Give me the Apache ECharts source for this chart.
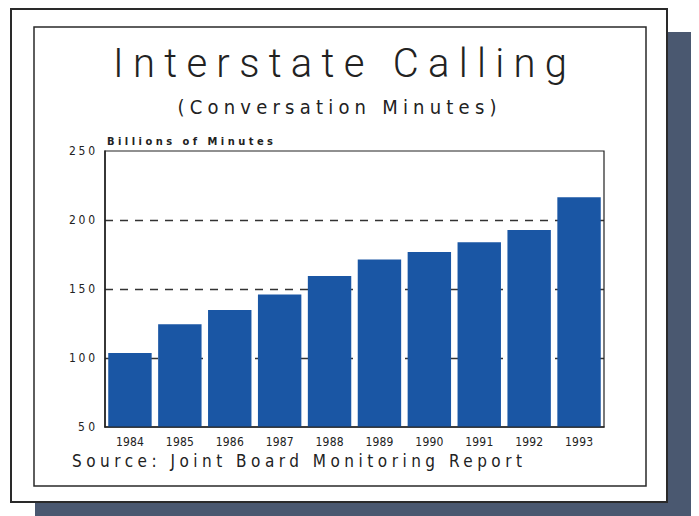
<!DOCTYPE html>
<html><head><meta charset="utf-8">
<script src="https://cdn.jsdelivr.net/npm/echarts@6/dist/echarts.min.js"></script>
<style>html,body{margin:0;padding:0;background:#fff}#c{width:699px;height:516px}</style>
</head><body><div id="c"></div>
<script>
const categories = ['1984','1985','1986','1987','1988','1989','1990','1991','1992','1993'];
const values = [103.6,124.5,134.7,146.1,159.5,171.4,176.9,183.8,192.7,216.5];
const yMin = 50, yMax = 250, yInterval = 50;
const titleText = 'Interstate Calling';
const subtitleText = '(Conversation Minutes)';
const yAxisName = 'Billions of Minutes';
const sourceText = 'Source: Joint Board Monitoring Report';

const INK = '#222';
const FONT = '"Liberation Sans Narrow","DejaVu Sans Condensed","Liberation Sans",sans-serif';

function txt(text, x, y, font, align) {
  return {type:'text', x:x, y:y, z:5,
    style:{text:text, font:font, fill:INK, textAlign:align, align:align, textVerticalAlign:'middle', verticalAlign:'middle'}};
}

const chart = echarts.init(document.getElementById('c'), null, {renderer:'svg'});
const option = {
  animation:false,
  backgroundColor:'#fff',
  grid:{left:105, right:95, top:151, bottom:89, show:true, borderColor:INK, borderWidth:1.2, backgroundColor:'transparent', z:3},
  graphic:[
    {type:'rect', z:-10, shape:{x:35,y:32,width:656,height:484}, style:{fill:'#4a5870'}},
    {type:'rect', z:-9, shape:{x:11,y:9,width:656,height:493}, style:{fill:'#fff', stroke:'#2a2a2a', lineWidth:2}},
    {type:'rect', z:-8, shape:{x:34,y:27,width:612,height:459}, style:{fill:'#fff', stroke:'#2a2a2a', lineWidth:1.5}},
    txt(titleText, 340, 63, '300 40px Roboto, "Liberation Sans", sans-serif', 'center'),
    txt(subtitleText, 337, 107, '20px ' + FONT, 'center'),
    txt(yAxisName, 107, 141, 'bold 11px ' + FONT, 'left'),
    txt(sourceText, 72, 461, '17px ' + FONT, 'left')
  ],
  xAxis:{type:'category', data:categories,
    axisLine:{show:true, lineStyle:{color:INK, width:1.5}},
    axisTick:{show:false},
    axisLabel:{color:INK, fontSize:12, fontFamily:FONT, margin:9}},
  yAxis:{type:'value', min:yMin, max:yMax, interval:yInterval,
    axisLine:{show:true, lineStyle:{color:INK, width:1.5}},
    axisTick:{show:false},
    axisLabel:{color:INK, fontSize:12, fontFamily:FONT, margin:10},
    splitLine:{show:true, showMinLine:false, showMaxLine:false, lineStyle:{color:'#333', width:1.4, type:[8,7]}}},
  series:[{type:'bar', data:values, barCategoryGap:'13%', itemStyle:{color:'#1a56a4'}}]
};
chart.setOption(option);

const spaceTargets = {};
spaceTargets[titleText] = 454;
spaceTargets[subtitleText] = 319;
spaceTargets[yAxisName] = 166;
spaceTargets[sourceText] = 450;
categories.forEach(c => spaceTargets[c] = 28);
['250','200','150','100'].forEach(c => spaceTargets[c] = 26);
spaceTargets['50'] = 17;

function spaceTexts(){
  document.querySelectorAll('#c svg text').forEach(t => {
    const s = t.textContent;
    if (!(s in spaceTargets) || t.dataset.sp) return;
    t.dataset.sp = '1';
    const nat = t.getComputedTextLength();
    const n = s.length;
    if (n < 2) return;
    const ls = (spaceTargets[s] - nat) / (n - 1);
    t.style.letterSpacing = ls + 'px';
    const anchor = t.getAttribute('text-anchor') || t.style.textAnchor || 'start';
    const x = parseFloat(t.getAttribute('x') || '0');
    if (anchor === 'middle') t.setAttribute('x', x + ls/2);
    else if (anchor === 'end') t.setAttribute('x', x + ls);
  });
}
spaceTexts();
chart.on('finished', spaceTexts);
setTimeout(spaceTexts, 50);
</script>
</body></html>
